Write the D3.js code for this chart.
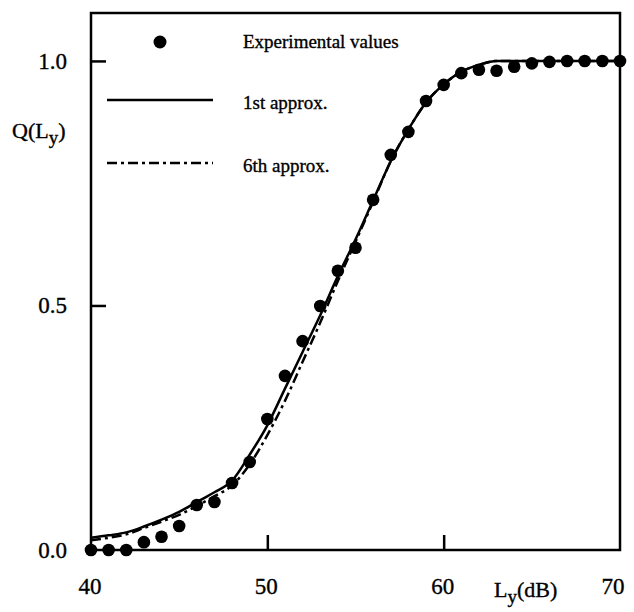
<!DOCTYPE html>
<html><head><meta charset="utf-8">
<script src="https://cdn.jsdelivr.net/npm/d3@7"></script>
<style>body{margin:0;background:#fff}svg{display:block}text{font-family:"Liberation Serif","Times New Roman",serif;fill:#000;stroke:#000;stroke-width:0.35px}</style>
</head><body><svg id="c" width="634" height="612"></svg>
<script>
const levels = d3.range(40, 71);
const experimental = [0.0,0.0,0.0,0.016,0.027,0.049,0.092,0.098,0.137,0.18,0.268,0.356,0.427,0.499,0.571,0.618,0.716,0.808,0.855,0.918,0.951,0.975,0.982,0.98,0.988,0.995,0.998,1.0,1.0,1.0,1.0];
const approx1 = [0.025,0.03,0.036,0.048,0.062,0.078,0.098,0.118,0.142,0.195,0.255,0.33,0.405,0.48,0.56,0.635,0.715,0.795,0.86,0.915,0.952,0.978,0.992,1.0,1.0,1.0,1.0,1.0,1.0,1.0,1.0];
const approx6 = [0.02,0.025,0.032,0.045,0.058,0.072,0.09,0.11,0.132,0.175,0.235,0.305,0.385,0.465,0.55,0.63,0.712,0.795,0.86,0.915,0.952,0.978,0.992,1.0,1.0,1.0,1.0,1.0,1.0,1.0,1.0];
const xTicks = [40,50,60,70];
const yTicks = [0.0,0.5,1.0];
const legendLabels = ["Experimental values","1st approx.","6th approx."];

const svg = d3.select("#c");
const L=91,R=620,T=13,B=550;
const x = d3.scaleLinear().domain([40,70]).range([L,R]);
const y = d3.scaleLinear().domain([0,1.098]).range([B,T]);

// frame
svg.append("rect").attr("x",L).attr("y",T).attr("width",R-L).attr("height",B-T)
  .attr("fill","none").attr("stroke","#000").attr("stroke-width",2.5);

// inward ticks
const bottom = d3.axisBottom(x).tickValues([50,60]).tickSize(-15).tickFormat("");
svg.append("g").attr("transform",`translate(0,${B})`).call(bottom)
  .call(g=>{g.select(".domain").remove();g.selectAll("line").attr("stroke-width",2.5);});
const left = d3.axisLeft(y).tickValues([0.5,1.0]).tickSize(-15).tickFormat("");
svg.append("g").attr("transform",`translate(${L},0)`).call(left)
  .call(g=>{g.select(".domain").remove();g.selectAll("line").attr("stroke-width",2.5);});

// tick labels
svg.selectAll(".xl").data(xTicks).enter().append("text")
  .attr("x",d=>d===70?x(d)-7:x(d)-1).attr("y",594).attr("text-anchor","middle").attr("font-size",23).text(d=>d);
svg.selectAll(".yl").data(yTicks).enter().append("text")
  .attr("x",67).attr("y",d=>y(d)+8).attr("text-anchor","end").attr("font-size",23).text(d=>d.toFixed(1));

// axis titles
const yt = svg.append("text").attr("x",12).attr("y",138).attr("font-size",22);
yt.append("tspan").text("Q(L");
yt.append("tspan").attr("dy",6).attr("font-size",19).text("y");
yt.append("tspan").attr("dy",-6).text(")");
const xt = svg.append("text").attr("x",494).attr("y",597).attr("font-size",22);
xt.append("tspan").text("L");
xt.append("tspan").attr("dy",6).attr("font-size",19).text("y");
xt.append("tspan").attr("dy",-6).text("(dB)");

// curves
const line = d3.line().x((d,i)=>x(levels[i])).y(d=>y(d)).curve(d3.curveMonotoneX);
svg.append("path").attr("d",line(approx6)).attr("fill","none").attr("stroke","#000")
  .attr("stroke-width",2.5).attr("stroke-dasharray","10,4,3,4");
svg.append("path").attr("d",line(approx1)).attr("fill","none").attr("stroke","#000").attr("stroke-width",2.5);

// points
svg.selectAll(".pt").data(experimental).enter().append("circle")
  .attr("cx",(d,i)=>x(levels[i])).attr("cy",d=>y(d)).attr("r",6.3).attr("fill","#000");

// legend
svg.append("circle").attr("cx",160).attr("cy",42).attr("r",6.5).attr("fill","#000");
svg.append("line").attr("x1",107).attr("x2",213).attr("y1",100).attr("y2",100).attr("stroke","#000").attr("stroke-width",2.5);
svg.append("line").attr("x1",107).attr("x2",213).attr("y1",163).attr("y2",163).attr("stroke","#000").attr("stroke-width",2.5).attr("stroke-dasharray","10,4,3,4");
[48,109,172].forEach((yy,i)=>svg.append("text").attr("x",243).attr("y",yy).attr("font-size",19).text(legendLabels[i]));
</script></body></html>
